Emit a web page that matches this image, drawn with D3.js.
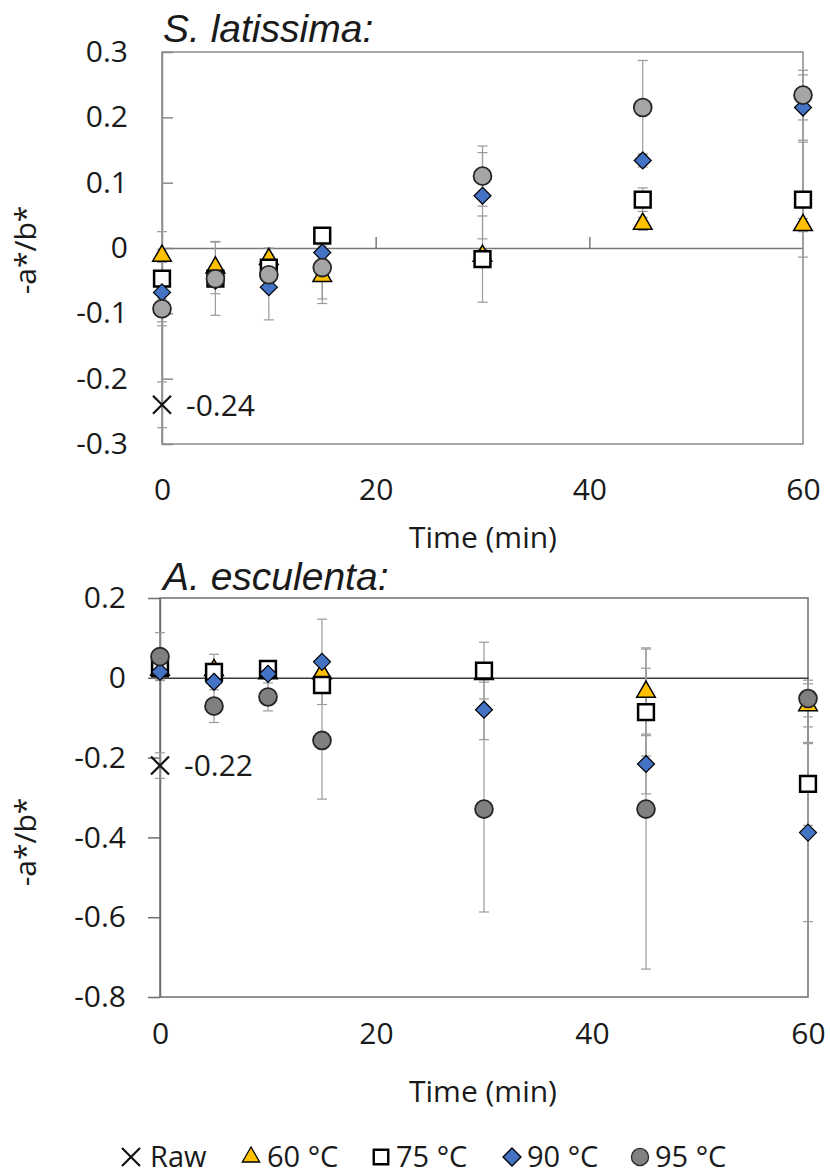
<!DOCTYPE html>
<html>
<head>
<meta charset="utf-8">
<script src="https://cdn.jsdelivr.net/npm/d3@7"></script>
<style>
  body { margin: 0; background: #fff; }
  text { font-family: "Open Sans", sans-serif; fill: #1a1a1a; }
  .title { font-family: "Liberation Sans", Arial, sans-serif; font-style: italic; }
</style>
</head>
<body>
<svg id="chart" width="830" height="1176"></svg>
<script>
// data
const times = [0, 5, 10, 15, 30, 45, 60];
const seriesNames = ["60 °C", "75 °C", "90 °C", "95 °C"];

// S. latissima
const latRaw = -0.24, latRawErr = 0.035;
const lat60 = [-0.012, -0.030, -0.017, -0.043, -0.012, 0.037, 0.035];
const lat75 = [-0.047, -0.047, -0.030, 0.019, -0.017, 0.074, 0.074];
const lat90 = [-0.068, -0.050, -0.060, -0.007, 0.080, 0.134, 0.215];
const lat95 = [-0.093, -0.047, -0.041, -0.030, 0.110, 0.215, 0.234];
const lat60Err = [0.01, 0.04, 0.017, 0.035, 0.01, 0.01, 0.01];
const lat75Err = [0.072, 0.01, 0.01, 0.006, 0.066, 0.018, 0.088];
const lat90Err = [0.01, 0.01, 0.05, 0.01, 0.066, 0.01, 0.05];
const lat95Err = [0.02, 0.056, 0.01, 0.055, 0.046, 0.072, 0.038];

// A. esculenta
const escRaw = -0.22, escRawErr = 0.032;
const esc60 = [0.020, 0.019, 0.011, 0.011, 0.009, -0.035, -0.069];
const esc75 = [0.024, 0.015, 0.022, -0.018, 0.018, -0.086, -0.266];
const esc90 = [0.015, -0.010, 0.010, 0.040, -0.080, -0.216, -0.388];
const esc95 = [0.053, -0.071, -0.048, -0.157, -0.329, -0.329, -0.052];
const esc60Err = [0.02, 0.04, 0.01, 0.02, 0.02, 0.11, 0.054];
const esc75Err = [0.02, 0.01, 0.01, 0.02, 0.071, 0.11, 0.104];
const esc90Err = [0.02, 0.01, 0.01, 0.107, 0.075, 0.075, 0.223];
const esc95Err = [0.06, 0.041, 0.035, 0.147, 0.258, 0.401, 0.046];

const xTicks = [0, 20, 40, 60];
const latYTicks = [-0.3, -0.2, -0.1, 0, 0.1, 0.2, 0.3];
const escYTicks = [-0.8, -0.6, -0.4, -0.2, 0, 0.2];

const svg = d3.select("#chart");

// hyphen instead of unicode minus, like the original
const fmt1 = d => d === 0 ? "0" : d3.format(".1f")(d).replace("\u2212", "-");
const fmt2 = d => d3.format(".2f")(d).replace("\u2212", "-");

const markerStyle = {
    "60 °C": { type: "triangle", fill: "#FFC000", stroke: "#000", sw: 1.5 },
    "75 °C": { type: "square", fill: "#fff", stroke: "#000", sw: 2.5 },
    "90 °C": { type: "diamond", fill: "#4472C4", stroke: "#000", sw: 1.2 },
    "95 °C": { type: "circle", fill: "#A5A5A5", stroke: "#262626", sw: 1.8 }
};

function symbolPath(type) {
    if (type === "triangle") return d3.symbol(d3.symbolTriangle, 150)();
    if (type === "square") return d3.symbol(d3.symbolSquare, 250)();
    if (type === "diamond") return "M0,-8.5L8.5,0L0,8.5L-8.5,0Z";
    return d3.symbol(d3.symbolCircle, 250)();
}

function drawPanel(opt) {
    const g = svg.append("g");
    const x = d3.scaleLinear().domain([0, 60]).range(opt.xRange);
    const y = d3.scaleLinear().domain(opt.yDomain).range(opt.yRange);

    // frame
    g.append("rect")
        .attr("x", x(0)).attr("y", y(opt.yDomain[1]))
        .attr("width", x(60) - x(0)).attr("height", y(opt.yDomain[0]) - y(opt.yDomain[1]))
        .attr("fill", "none").attr("stroke", opt.frameColor).attr("stroke-width", 1.5);

    // y axis
    const yAxis = g.append("g")
        .attr("transform", `translate(${x(0)},0)`)
        .call(d3.axisLeft(y).tickValues(opt.yTicks).tickSizeInner(opt.yTickSize).tickSizeOuter(0)
            .tickPadding(opt.yTickSize < 0 ? 34 : 22).tickFormat(fmt1));
    yAxis.select(".domain").attr("stroke", opt.frameColor).attr("stroke-width", 1.5);
    yAxis.selectAll(".tick line").attr("stroke", opt.frameColor).attr("stroke-width", 1.5);
    yAxis.selectAll("text").attr("font-size", 30).attr("fill", "#1a1a1a")
        .style("font-family", "'Open Sans', sans-serif");

    // zero line with ticks
    const zAxis = g.append("g")
        .attr("transform", `translate(0,${y(0)})`)
        .call(d3.axisBottom(x).tickValues([20, 40]).tickSizeInner(opt.xTickSize).tickSizeOuter(0).tickFormat(""));
    zAxis.select(".domain").attr("stroke", opt.zeroColor).attr("stroke-width", 1.5);
    zAxis.selectAll(".tick line").attr("stroke", opt.zeroColor).attr("stroke-width", 1.5)
        .attr("y1", opt.xTickY1);

    // x labels (low position)
    const xAxis = g.append("g")
        .attr("transform", `translate(0,${y(opt.yDomain[0])})`)
        .call(d3.axisBottom(x).tickValues(xTicks).tickSize(0).tickPadding(opt.xLabelPad));
    xAxis.select(".domain").remove();
    xAxis.selectAll("text").attr("font-size", 30).attr("fill", "#1a1a1a")
        .style("font-family", "'Open Sans', sans-serif");

    g.append("text").attr("x", 483).attr("y", opt.xTitleY)
        .attr("text-anchor", "middle").attr("font-size", 30).text("Time (min)");

    g.append("text")
        .attr("transform", `translate(36,${opt.yTitleY}) rotate(-90)`)
        .attr("text-anchor", "middle").attr("font-size", 30).text("-a*/b*");

    g.append("text").attr("class", "title")
        .attr("x", 163).attr("y", opt.titleY)
        .attr("font-size", 39).text(opt.title);

    // error bars
    const errG = g.append("g");
    opt.series.forEach(s => {
        times.forEach((t, i) => {
            const v = s.values[i], e = s.err[i];
            const cx = x(t);
            errG.append("line").attr("x1", cx).attr("x2", cx)
                .attr("y1", y(v - e)).attr("y2", y(v + e))
                .attr("stroke", "#9a9a9a").attr("stroke-width", 1.2);
            [v - e, v + e].forEach(c => {
                errG.append("line").attr("x1", cx - 5).attr("x2", cx + 5)
                    .attr("y1", y(c)).attr("y2", y(c))
                    .attr("stroke", "#9a9a9a").attr("stroke-width", 1.2);
            });
        });
    });

    // raw
    const rx = x(0), ry = y(opt.raw);
    [opt.raw - opt.rawErr, opt.raw + opt.rawErr].forEach(c => {
        errG.append("line").attr("x1", rx - 5).attr("x2", rx + 5)
            .attr("y1", y(c)).attr("y2", y(c)).attr("stroke", "#9a9a9a").attr("stroke-width", 1.2);
    });
    errG.append("line").attr("x1", rx).attr("x2", rx)
        .attr("y1", y(opt.raw - opt.rawErr)).attr("y2", y(opt.raw + opt.rawErr))
        .attr("stroke", "#9a9a9a").attr("stroke-width", 1.2);
    g.append("path")
        .attr("d", "M-9,-9L9,9M-9,9L9,-9")
        .attr("transform", `translate(${rx},${ry})`)
        .attr("stroke", "#111").attr("stroke-width", 2.2).attr("fill", "none");
    g.append("text").attr("x", rx + 24).attr("y", ry).attr("dy", "0.36em")
        .attr("font-size", 30).text(fmt2(opt.raw));

    // markers
    opt.series.forEach(s => {
        const st = markerStyle[s.name];
        g.append("g").selectAll("path")
            .data(times.map((t, i) => ({ t, v: s.values[i] })))
            .join("path")
            .attr("d", symbolPath(st.type))
            .attr("transform", d => `translate(${x(d.t)},${y(d.v)})`)
            .attr("fill", s.fill || st.fill)
            .attr("stroke", st.stroke)
            .attr("stroke-width", st.sw);
    });
}

drawPanel({
    title: "S. latissima:", titleY: 42,
    xRange: [162, 803], yDomain: [-0.3, 0.3], yRange: [444, 52],
    yTicks: latYTicks, yTickSize: -11, xTickSize: 0, xTickY1: -11,
    frameColor: "#8a8a8a", zeroColor: "#7a7a7a",
    xLabelPad: 35, xTitleY: 548, yTitleY: 250,
    raw: latRaw, rawErr: latRawErr,
    series: [
        { name: "60 °C", values: lat60, err: lat60Err },
        { name: "75 °C", values: lat75, err: lat75Err },
        { name: "90 °C", values: lat90, err: lat90Err },
        { name: "95 °C", values: lat95, err: lat95Err }
    ]
});

drawPanel({
    title: "A. esculenta:", titleY: 590,
    xRange: [160, 808], yDomain: [-0.8, 0.2], yRange: [997, 598],
    yTicks: escYTicks, yTickSize: 12, xTickSize: 11, xTickY1: 11,
    frameColor: "#6e6e6e", zeroColor: "#3a3a3a",
    xLabelPad: 26, xTitleY: 1102, yTitleY: 842,
    raw: escRaw, rawErr: escRawErr,
    series: [
        { name: "60 °C", values: esc60, err: esc60Err },
        { name: "75 °C", values: esc75, err: esc75Err },
        { name: "90 °C", values: esc90, err: esc90Err },
        { name: "95 °C", values: esc95, err: esc95Err, fill: "#808080" }
    ]
});

// legend
const legendItems = [
    { name: "Raw", cx: 131, tx: 150 },
    { name: "60 °C", cx: 251, tx: 267 },
    { name: "75 °C", cx: 381, tx: 396 },
    { name: "90 °C", cx: 512, tx: 527 },
    { name: "95 °C", cx: 640, tx: 655 }
];
const leg = svg.append("g").attr("transform", "translate(0,1157)");
legendItems.forEach(it => {
    if (it.name === "Raw") {
        leg.append("path").attr("d", "M-9,-9L9,9M-9,9L9,-9")
            .attr("transform", `translate(${it.cx},0)`)
            .attr("stroke", "#111").attr("stroke-width", 2.2).attr("fill", "none");
    } else {
        const st = markerStyle[it.name];
        const p = st.type === "circle" ? d3.symbol(d3.symbolCircle, 230)()
            : st.type === "square" ? d3.symbol(d3.symbolSquare, 210)()
            : st.type === "triangle" ? d3.symbol(d3.symbolTriangle, 130)()
            : "M0,-9L9,0L0,9L-9,0Z";
        leg.append("path").attr("d", p)
            .attr("transform", `translate(${it.cx},0)`)
            .attr("fill", st.type === "circle" ? "#808080" : st.fill)
            .attr("stroke", st.stroke).attr("stroke-width", st.type === "square" ? 2.4 : 1.3);
    }
    leg.append("text").attr("x", it.tx).attr("y", 0).attr("dy", "0.36em")
        .attr("font-size", 29).text(it.name);
});
</script>
</body>
</html>
